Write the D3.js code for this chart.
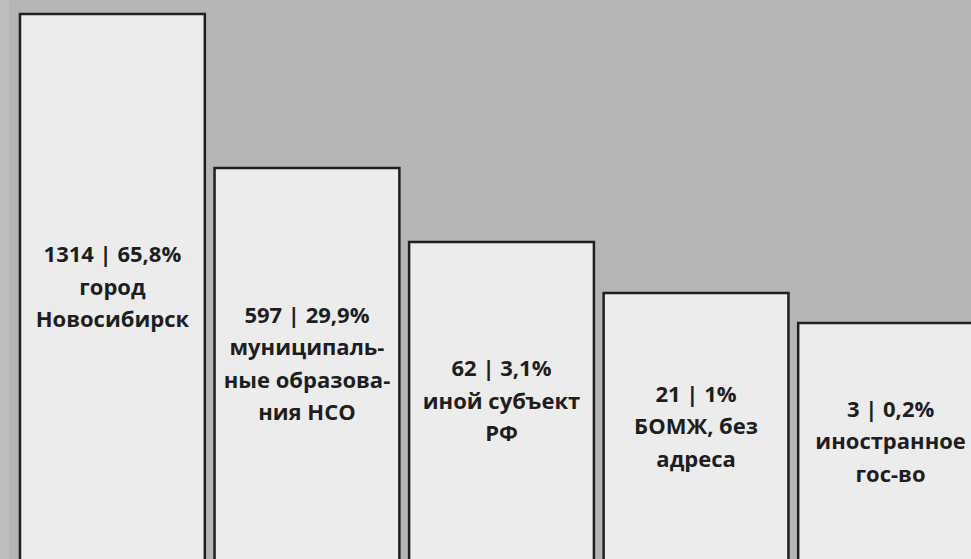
<!DOCTYPE html>
<html>
<head>
<meta charset="utf-8">
<script src="https://cdn.jsdelivr.net/npm/d3@7"></script>
<style>
  body { margin: 0; padding: 0; overflow: hidden; background: #b5b5b5; }
  #chart { width: 971px; height: 559px; }
  text { font-family: "Open Sans", Roboto, sans-serif; font-weight: 700; fill: #1e1e1e; }
</style>
</head>
<body>
<div id="chart"></div>
<script>
// DATA
const categories = ["Новосибирск", "НСО", "РФ", "БОМЖ", "иностр"];
const counts = [1314, 597, 62, 21, 3];
const shares = [65.8, 29.9, 3.1, 1, 0.2];
const labels = [
  ["город", "Новосибирск"],
  ["муниципаль-", "ные образова-", "ния НСО"],
  ["иной субъект", "РФ"],
  ["БОМЖ, без", "адреса"],
  ["иностранное", "гос-во"]
];

const data = categories.map((c, i) => ({
  cat: c, count: counts[i], share: shares[i], lines: labels[i]
}));

const width = 971;
const height = 559;

// SVG
const svg = d3.select("#chart")
  .append("svg")
  .attr("width", width)
  .attr("height", height)
  .style("background-color", "#b5b5b5");

// slightly lighter strip on the left edge
svg.append("rect")
  .attr("x", 0).attr("y", 0)
  .attr("width", 9).attr("height", height)
  .attr("fill", "#bcbcbc");

// SCALES
// x - categories
const xScale = d3.scaleBand()
  .domain(categories)
  .range([20, 983])
  .paddingInner(0.05)
  .paddingOuter(0);

// y - the infographic is not proportional, piecewise linear through the counts
const yScale = d3.scaleLinear()
  .domain([3, 21, 62, 597, 1314])
  .range([323, 293, 242, 168, 14]);

// BARS
svg.selectAll("rect.bar")
  .data(data)
  .join("rect")
  .attr("class", "bar")
  .attr("x", d => xScale(d.cat))
  .attr("y", d => yScale(d.count))
  .attr("width", xScale.bandwidth())
  .attr("height", d => height + 20 - yScale(d.count))
  .attr("fill", "#ececec")
  .attr("stroke", "#1f1f1f")
  .attr("stroke-width", 2.5);

// LABELS
const fmt = v => String(v).replace(".", ",");
const lineH = 32.5;

const labelGroups = svg.selectAll("g.label")
  .data(data)
  .join("g")
  .attr("class", "label")
  .attr("transform", d => {
    const cx = xScale(d.cat) + xScale.bandwidth() / 2;
    const cy = (yScale(d.count) + height) / 2;
    return `translate(${cx}, ${cy})`;
  });

labelGroups.each(function(d) {
  const g = d3.select(this);
  const all = [`${d.count} | ${fmt(d.share)}%`].concat(d.lines);
  const first = -(all.length - 1) * lineH / 2 + 8;
  g.selectAll("text")
    .data(all)
    .join("text")
    .attr("x", 0)
    .attr("y", (t, i) => first + i * lineH)
    .attr("text-anchor", "middle")
    .style("font-size", "22px")
    .text(t => t);
});
</script>
</body>
</html>
